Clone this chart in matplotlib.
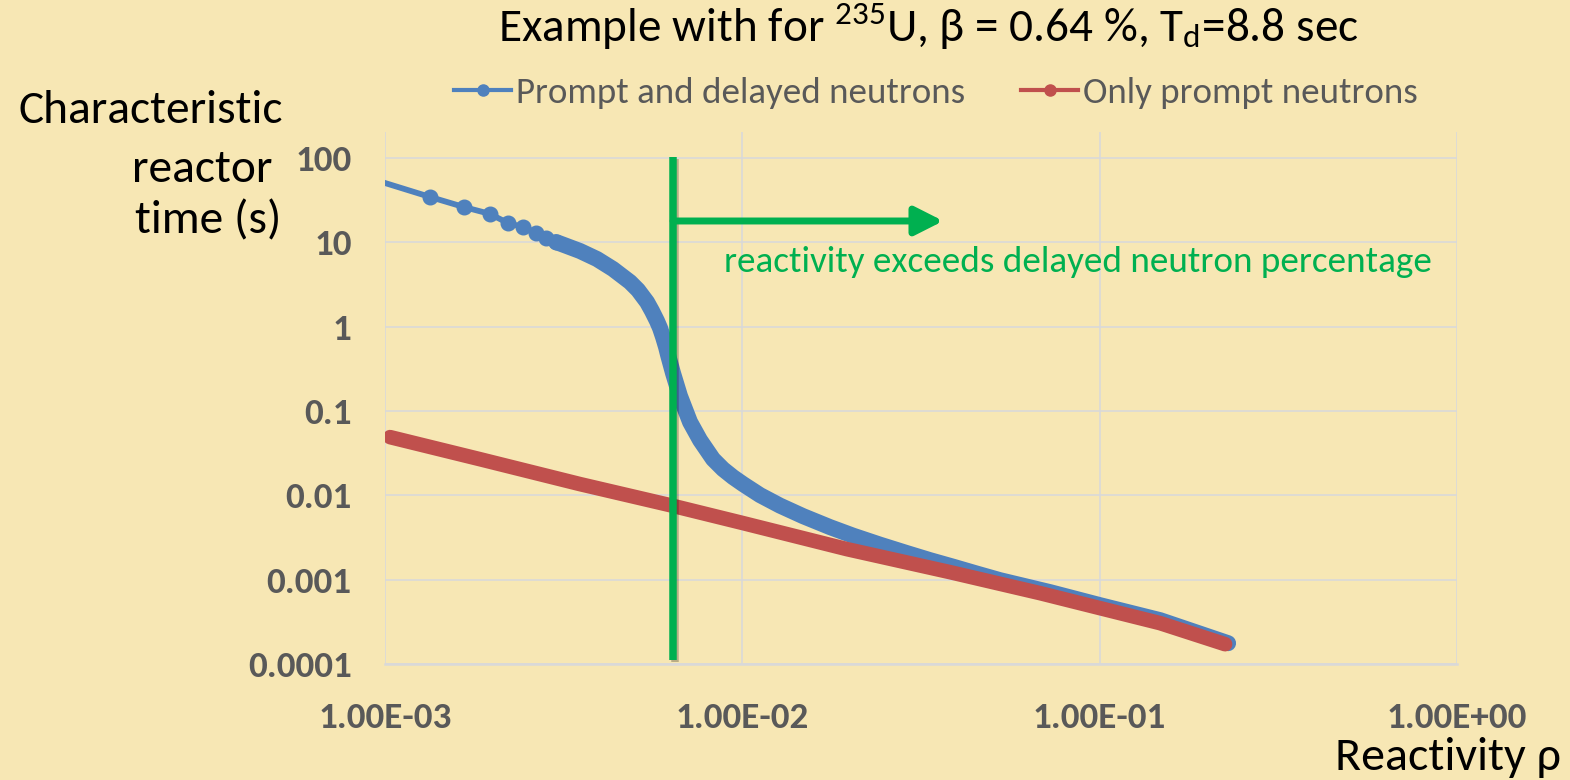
"""Characteristic reactor time against reactivity for 235U."""
import matplotlib

matplotlib.use("Agg")
import matplotlib.pyplot as plt
from matplotlib import patheffects
from matplotlib.lines import Line2D
from matplotlib.ticker import NullLocator

FONT = ["Carlito", "Liberation Sans Narrow", "Lato", "DejaVu Sans"]
BG = "#F7E7B4"
BLUE = "#4F81BD"
RED = "#C0504D"
GREEN = "#00B050"
GRID = "#D9D9D9"
GREY_TEXT = "#595959"

# prompt and delayed neutrons
blue_rho = [0.001, 0.001337, 0.001663, 0.001968, 0.002208, 0.002432, 0.00265,
            0.002825, 0.003011, 0.003253, 0.003514, 0.003920, 0.004346,
            0.004850, 0.005106, 0.005411, 0.005588, 0.005771, 0.005884,
            0.006000, 0.006117, 0.006197, 0.006397, 0.006692, 0.007140,
            0.007614, 0.008279, 0.008831, 0.009419, 0.01005, 0.01121,
            0.01275, 0.01479, 0.01760, 0.02041, 0.02428, 0.02891, 0.03352,
            0.03888, 0.04538, 0.05262, 0.07265, 0.1003, 0.1476, 0.2288]
blue_time = [50.5, 34.5, 26.2, 21.7, 16.9, 15.2, 12.9, 11.2, 10.08, 8.918,
             7.885, 6.337, 4.824, 3.382, 2.718, 1.958, 1.531, 1.165, 0.9625,
             0.7526, 0.5728, 0.4603, 0.2815, 0.1502, 0.07386, 0.04516,
             0.02688, 0.02045, 0.01644, 0.01358, 0.01006, 0.007546,
             0.005665, 0.004195, 0.003326, 0.002601, 0.002062, 0.001703,
             0.001426, 0.001178, 0.000986, 0.000711, 0.000498, 0.000331,
             0.0001765]
SPARSE_END = 8  # up to this index the markers stand apart

# only prompt neutrons
red_rho = [0.001033, 0.001845, 0.003514, 0.006274, 0.01005, 0.01963, 0.03814,
           0.06810, 0.1003, 0.1476, 0.2244]
red_time = [0.0490, 0.0268, 0.01358, 0.007651, 0.004681, 0.002300, 0.001227,
            0.000692, 0.000459, 0.000305, 0.0001717]

x_ticks = [1e-3, 1e-2, 1e-1, 1e0]
x_tick_labels = ["1.00E-03", "1.00E-02", "1.00E-01", "1.00E+00"]
y_ticks = [1e-4, 1e-3, 1e-2, 1e-1, 1, 10, 100]
y_tick_labels = ["0.0001", "0.001", "0.01", "0.1", "1", "10", "100"]

BETA = 0.0064
ARROW_END = 0.0365
ARROW_Y = 17.9

W, H = 1570, 780
plt.rcParams["font.family"] = FONT
plt.rcParams["mathtext.default"] = "regular"


def fx(px):
    return px / W


def fy(py):
    return 1 - py / H


def fit_size(fig, text, target_px, weight="normal", start=20.0):
    """Font size that makes text about target_px wide."""
    t = fig.text(0, 0, text, fontsize=start, weight=weight)
    width = t.get_window_extent(fig.canvas.get_renderer()).width
    t.remove()
    return start * target_px / width


fig = plt.figure(figsize=(W / 100, H / 100), dpi=100, facecolor=BG)
ax = fig.add_axes([fx(385), fy(664), fx(1457 - 385), (664 - 132) / H])
ax.set_facecolor(BG)
ax.set_xscale("log")
ax.set_yscale("log")
ax.set_xlim(1e-3, 1)
ax.set_ylim(1e-4, 10 ** 2.308)

tick_size = fit_size(fig, "1.00E-03", 134, weight="bold")
ax.set_xticks(x_ticks, x_tick_labels)
ax.set_yticks(y_ticks, y_tick_labels)
ax.xaxis.set_minor_locator(NullLocator())
ax.yaxis.set_minor_locator(NullLocator())
ax.tick_params(length=0, labelsize=tick_size, labelcolor=GREY_TEXT)
ax.tick_params(axis="x", pad=27)
ax.tick_params(axis="y", pad=24)
for label in ax.get_xticklabels() + ax.get_yticklabels():
    label.set_fontweight("bold")
ax.grid(True, color=GRID, linewidth=1.2)
for side in ("top", "right", "left"):
    ax.spines[side].set_visible(False)
ax.spines["bottom"].set_color(GRID)
ax.spines["bottom"].set_linewidth(1.8)

# blue: separate markers first, then overlapping markers as a thick band
ax.plot(blue_rho[:SPARSE_END + 1], blue_time[:SPARSE_END + 1], color=BLUE,
        linewidth=4.2, marker="o", markersize=10.5,
        markevery=list(range(1, SPARSE_END + 1)), zorder=3)
ax.plot(blue_rho[SPARSE_END:], blue_time[SPARSE_END:], color=BLUE,
        linewidth=11.5, solid_capstyle="round", solid_joinstyle="round",
        zorder=3)
ax.plot(red_rho, red_time, color=RED, linewidth=10.5, solid_capstyle="round",
        solid_joinstyle="round", zorder=4)

shadow = [patheffects.SimpleLineShadow(offset=(1.5, -1.5), alpha=0.25),
          patheffects.Normal()]
ax.plot([BETA, BETA], [102, 1.12e-4], color=GREEN, linewidth=5.4,
        solid_capstyle="butt", path_effects=shadow, zorder=5, clip_on=False)
ax.annotate("", xy=(ARROW_END, ARROW_Y), xytext=(BETA, ARROW_Y),
            arrowprops=dict(arrowstyle="-|>,head_length=17,head_width=8.6",
                            mutation_scale=1, color=GREEN, linewidth=5.0,
                            shrinkA=0, shrinkB=0),
            zorder=5)

note_size = fit_size(fig, "reactivity exceeds delayed neutron percentage", 707)
fig.text(fx(724), fy(272), "reactivity exceeds delayed neutron percentage",
         color=GREEN, fontsize=note_size, va="baseline")

title = r"Example with for $^{235}$U, β = 0.64 %, T$_{d}$=8.8 sec"
title_size = fit_size(fig, title, 862)
fig.text(fx(928), fy(42), title, fontsize=title_size, ha="center",
         va="baseline", color="black")

label_size = fit_size(fig, "Characteristic", 264)
for text, left, base in (("Characteristic", 18, 123), ("reactor", 132, 182),
                         ("time (s)", 135, 233)):
    fig.text(fx(left), fy(base), text, fontsize=label_size, va="baseline")
xlabel_size = fit_size(fig, "Reactivity ρ", 226)
fig.text(fx(1335), fy(770), "Reactivity ρ", fontsize=xlabel_size,
         va="baseline")

legend_size = fit_size(fig, "Prompt and delayed neutrons", 450)
px_per_em = legend_size / 0.72
handles = [
    Line2D([], [], color=BLUE, linewidth=3.0, marker="o", markersize=8),
    Line2D([], [], color=RED, linewidth=3.0, marker="o", markersize=8),
]
legend = fig.legend(handles, ["Prompt and delayed neutrons",
                              "Only prompt neutrons"],
                    loc="center", bbox_to_anchor=(fx(936), fy(93)), ncol=2,
                    frameon=False, fontsize=legend_size,
                    handlelength=57 / px_per_em,
                    handletextpad=5 / px_per_em,
                    columnspacing=56 / px_per_em, borderpad=0,
                    borderaxespad=0)
for text in legend.get_texts():
    text.set_color(GREY_TEXT)

fig.savefig("out.png", dpi=100, facecolor=BG)
